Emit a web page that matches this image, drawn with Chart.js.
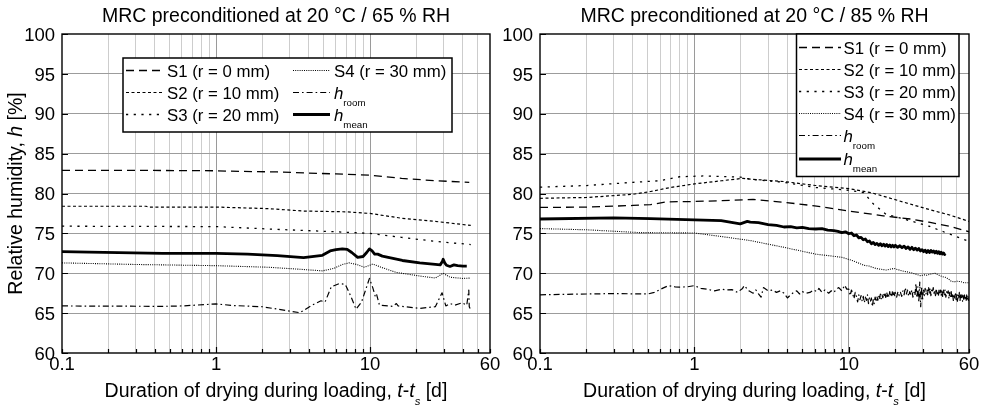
<!DOCTYPE html>
<html>
<head>
<meta charset="utf-8">
<title>Relative humidity during drying under loading</title>
<script src="https://cdn.jsdelivr.net/npm/chart.js@4.4.1/dist/chart.umd.min.js"></script>
<style>
  html, body { margin: 0; padding: 0; background: #ffffff; }
  #stage { position: relative; width: 988px; height: 413px; overflow: hidden; background: #ffffff; }
  #stage canvas { position: absolute; top: 0; }
  #panelA { left: 0; }
  #panelB { left: 494px; }
</style>
</head>
<body>
<div id="stage">
  <canvas id="panelA" width="510" height="413"></canvas>
  <canvas id="panelB" width="494" height="413"></canvas>
</div>
<script>
// ---------- axes ----------
const xTicks = [0.1, 0.2, 0.3, 0.4, 0.5, 0.6, 0.7, 0.8, 0.9, 1, 2, 3, 4, 5, 6, 7, 8, 9, 10, 20, 30, 40, 50, 60];
const xLabelled = [0.1, 1, 10, 60];
const xTickText = ['0.1', '1', '10', '60'];
const xMajor = [1, 10];
const yTicks = [60, 65, 70, 75, 80, 85, 90, 95, 100];

// ---------- series names ----------
const seriesKeys = ['S1', 'S2', 'S3', 'S4', 'room', 'mean'];
const sensorNames = ['S1 (r = 0 mm)', 'S2 (r = 10 mm)', 'S3 (r = 20 mm)', 'S4 (r = 30 mm)'];
const hSubscripts = ['room', 'mean'];

// ---------- panel A: preconditioned at 20 °C / 65 % RH ----------
const a_S1_t = [0.1, 0.3, 1, 1.2, 2.5, 6, 10, 16, 26.5, 44];
const a_S1_h = [82.9, 82.9, 82.85, 82.8, 82.7, 82.45, 82.3, 81.9, 81.6, 81.4];

const a_S2_t = [0.1, 0.35, 0.37, 1, 2.2, 3.7, 7, 10, 16, 26.5, 45];
const a_S2_h = [78.4, 78.4, 78.3, 78.3, 78.1, 77.8, 77.7, 77.5, 76.9, 76.5, 76.0];

const a_S3_t = [0.1, 1, 2.5, 6, 10, 16, 26.5, 45];
const a_S3_h = [75.9, 75.85, 75.5, 75.2, 75.0, 74.5, 74.0, 73.6];

const a_S4_t = [0.1, 0.3, 1, 2.2, 3.5, 4.9, 5.8, 6.6, 7.3, 8.2,
                9.2, 10.4, 12, 14.8, 21, 26.5, 29.8, 33, 40, 45];
const a_S4_h = [71.3, 71.1, 70.95, 70.75, 70.5, 70.3, 70.6, 71.1, 71.3, 71.1,
                70.75, 71.15, 70.7, 70.1, 69.65, 69.4, 70.0, 69.5, 69.35, 69.4];

const a_room_t = [0.1, 0.45, 0.6, 1, 1.3, 2, 2.5, 3.5, 4.2, 4.8,
                  5.1, 5.6, 6.3, 6.9, 7.5, 8.1, 8.8, 9.9, 10.4, 10.8,
                  11.0, 11.5, 14, 14.8, 15.2, 21, 26.5, 29.3, 31, 33,
                  35.5, 39.6, 42.4, 43.7, 44, 45];
const a_room_h = [65.9, 65.85, 65.9, 66.15, 65.95, 65.8, 65.5, 65.05, 66.0, 66.55,
                  66.4, 68.3, 68.7, 68.6, 67.1, 65.5, 66.4, 69.35, 68.2, 67.1,
                  67.4, 66.0, 65.85, 66.2, 65.9, 65.6, 65.8, 67.55, 65.9, 66.2,
                  66.0, 66.3, 66.0, 67.9, 65.8, 65.4];

const a_mean_t = [0.1, 0.15, 0.45, 1, 1.6, 2.5, 3.7, 4.9, 5.5, 6.0,
                  6.6, 7.1, 7.6, 8.3, 9.0, 9.5, 9.9, 10.3, 10.7, 11.2,
                  12, 16.2, 21, 26.5, 28.5, 29.5, 29.8, 30.5, 31.3, 33,
                  35, 37, 40, 42.4];
const a_mean_h = [72.7, 72.65, 72.5, 72.5, 72.4, 72.2, 71.95, 72.25, 72.8, 72.95,
                  73.05, 73.0, 72.6, 72.0, 72.1, 72.6, 73.05, 72.8, 72.4, 72.4,
                  72.15, 71.6, 71.3, 71.1, 71.05, 71.5, 71.75, 71.3, 71.0, 70.85,
                  71.05, 70.95, 70.9, 70.9];

// ---------- panel B: preconditioned at 20 °C / 85 % RH ----------
const b_S1_t = [0.1, 0.2, 0.4, 0.52, 0.66, 1, 1.5, 2.4, 3.8, 6, 10, 16.7, 25, 33, 45, 60];
const b_S1_h = [78.25, 78.3, 78.5, 78.6, 78.95, 79.0, 79.1, 79.25, 78.9, 78.45, 77.8, 77.2, 76.8, 76.4, 75.9, 75.2];

const b_S2_t = [0.1, 0.2, 0.4, 0.52, 0.7, 1, 1.5, 2.06, 2.3, 3.8, 6.1, 10.1, 14, 21, 33, 45, 60];
const b_S2_h = [79.4, 79.5, 79.9, 80.25, 80.75, 81.2, 81.6, 81.9, 81.8, 81.5, 81.0, 80.6, 80.1, 79.1, 78.0, 77.3, 76.5];

const b_S3_t = [0.1, 0.2, 0.4, 0.6, 0.8, 1.14, 1.98, 2.3, 3.8, 6.1, 10.1, 12.5, 14.4, 17.4, 24.7, 33, 45, 60];
const b_S3_h = [80.8, 81.0, 81.4, 81.6, 82.1, 82.2, 82.05, 81.8, 81.4, 80.75, 80.4, 80.1, 78.7, 77.4, 76.6, 75.9, 74.9, 74.0];

const b_S4_t = [0.1, 0.2, 0.44, 1, 1.5, 2.3, 3.8, 6.1, 9, 10.5,
                11.5, 12.5, 13.5, 15, 17.4, 19.6, 22, 25, 27, 29,
                31, 32, 34, 36, 38, 40, 42, 44, 46, 48,
                50, 53, 56, 60];
const b_S4_h = [75.6, 75.45, 75.1, 75.05, 74.6, 74.1, 73.25, 72.4, 72.0, 71.6,
                71.3, 71.0, 70.9, 70.6, 70.4, 70.6, 70.3, 70.1, 69.9, 69.7,
                69.8, 69.75, 69.9, 70.0, 69.8, 69.6, 69.5, 69.3, 69.0, 68.9,
                69.0, 68.95, 68.8, 68.8];

const b_room_t = [0.1, 0.2, 0.3, 0.5, 0.55, 0.62, 0.68, 0.75, 0.8, 0.9,
                  1.0, 1.1, 1.2, 1.35, 1.5, 1.6, 1.75, 1.9, 2.05, 2.1,
                  2.25, 2.4, 2.5, 2.6, 2.7, 2.8, 3.0, 3.2, 3.4, 3.6,
                  3.8, 4.0, 4.2, 4.4, 4.6, 4.8, 5.0, 5.3, 5.6, 5.9,
                  6.2, 6.4, 6.7, 7.0, 7.4, 7.7, 8.0, 8.3, 8.6, 9.0,
                  9.4, 9.7,
                  10.0, 10.2, 10.4, 10.6, 10.8, 11.0, 11.2, 11.4, 11.6, 11.8,
                  12.0, 12.2, 12.4, 12.6, 12.8, 13.0, 13.2, 13.4, 13.6, 13.8,
                  14.0, 14.2, 14.4, 14.6, 14.8, 15.0, 15.2, 15.4, 15.6, 15.8,
                  16.0, 16.2, 16.4, 16.6, 16.8, 17.0, 17.2, 17.4, 17.6, 17.8,
                  18.0, 18.2, 18.4, 18.6, 18.8, 19.0, 19.2, 19.4, 19.6, 19.8,
                  20.0, 20.4, 20.8, 21.2, 21.6, 22.0, 22.4, 22.8, 23.2, 23.6,
                  24.0, 24.4, 24.8, 25.2, 25.6, 26.0, 26.4, 26.8, 27.2, 27.6,
                  28.0, 28.4, 28.8, 29.2, 29.6, 30.0, 30.4, 30.8, 31.2, 31.6,
                  32.0, 32.4, 32.8, 33.2, 33.6, 34.0, 34.4, 34.8, 35.2, 35.6,
                  36.0, 36.4, 36.8, 37.2, 37.6, 38.0, 38.4, 38.8, 39.2, 39.6,
                  40.0, 40.5, 41.0, 41.5, 42.0, 42.5, 43.0, 43.5, 44.0, 44.5,
                  45.0, 45.5, 46.0, 46.5, 47.0, 47.5, 48.0, 48.5, 49.0, 49.5,
                  50.0, 50.5, 51.0, 51.5, 52.0, 52.5, 53.0, 53.5, 54.0, 54.5,
                  55.0, 55.5, 56.0, 56.5, 57.0, 57.5, 58.0, 58.5, 59.0, 59.5,
                  60.0];
const b_room_h = [67.3, 67.4, 67.45, 67.4, 67.6, 68.1, 68.45, 68.3, 68.25, 68.3,
                  68.45, 68.1, 68.0, 67.8, 68.0, 67.9, 67.95, 67.6, 68.1, 68.45,
                  67.8, 67.5, 67.9, 67.4, 67.0, 68.2, 67.8, 67.9, 67.6, 67.8,
                  67.5, 66.9, 67.3, 67.6, 67.8, 67.4, 67.7, 67.5, 67.6, 67.9,
                  67.7, 68.1, 67.6, 67.9, 67.5, 67.8, 67.6, 68.0, 68.2, 67.8,
                  68.5, 68.0,
                  68.0, 67.2, 67.9, 67.4, 66.8, 67.6, 67.1, 66.4, 67.3, 66.7,
                  67.2, 66.5, 67.1, 66.3, 67.0, 66.6, 67.3, 66.2, 66.9, 66.5,
                  66.9, 65.8, 66.7, 66.2, 67.0, 66.4, 67.1, 66.6, 67.2, 66.7,
                  67.4, 66.8, 67.3, 66.9, 67.5, 67.0, 67.4, 66.8, 67.6, 67.1,
                  67.5, 67.0, 67.7, 67.1, 67.6, 67.2, 67.8, 67.1, 67.6, 67.2,
                  67.6, 67.0, 67.7, 67.2, 67.6, 67.1, 67.8, 67.3, 68.2, 67.4,
                  67.9, 67.1, 67.7, 67.3, 67.9, 67.0, 67.6, 67.2, 68.7, 66.9,
                  68.3, 66.4, 68.9, 65.8, 68.3, 66.6, 67.9, 67.2, 68.1, 67.4,
                  67.9, 67.3, 68.3, 67.5, 68.1, 67.2, 67.9, 67.6, 68.2, 67.5,
                  67.9, 67.2, 68.1, 67.4, 67.8, 67.1, 68.0, 67.3, 67.9, 67.2,
                  67.8, 67.1, 68.0, 67.3, 67.9, 67.0, 67.7, 67.3, 67.8, 66.8,
                  67.6, 67.0, 67.7, 66.9, 67.5, 66.6, 67.4, 66.9, 67.6, 66.7,
                  67.5, 66.5, 67.3, 66.8, 67.6, 66.6, 67.4, 66.7, 67.3, 66.5,
                  67.2, 66.6, 67.4, 66.8, 67.2, 66.5, 67.3, 66.7, 67.1, 66.6,
                  67.0];

const b_mean_t = [0.1, 0.3, 0.52, 1, 1.49, 1.98, 2.2, 2.3, 2.6, 3.0,
                  3.4, 3.8, 4.2, 4.6, 5.0, 5.5, 6.1, 6.7, 7.3, 8.0,
                  8.5, 9.0, 9.5,
                  10.0, 10.4, 10.8, 11.2, 11.6, 12.0, 12.4, 12.8, 13.2, 13.6,
                  14.0, 14.4, 14.8, 15.2, 15.6, 16.0, 16.4, 16.8, 17.2, 17.6,
                  18.0, 18.4, 18.8, 19.2, 19.6,
                  20.0, 20.7, 21.4, 22.1, 22.8, 23.5, 24.2, 24.9, 25.6, 26.3,
                  27.0, 27.7, 28.4, 29.1, 29.8, 30.5, 31.2, 31.9, 32.6, 33.3,
                  34.0, 34.7, 35.4, 36.1, 36.8, 37.5, 38.2, 38.9, 39.6, 40.3,
                  41.0, 41.7, 42.2];
const b_mean_h = [76.8, 76.95, 76.85, 76.7, 76.6, 76.2, 76.5, 76.4, 76.35, 76.1,
                  76.0, 75.8, 75.85, 75.7, 75.75, 75.6, 75.55, 75.6, 75.4, 75.35,
                  75.25, 75.1, 75.2,
                  74.95, 75.05, 74.7, 74.8, 74.45, 74.5, 74.2, 74.3, 73.95, 74.05,
                  73.7, 73.85, 73.6, 73.75, 73.5, 73.7, 73.45, 73.65, 73.4, 73.6,
                  73.35, 73.55, 73.3, 73.5, 73.3,
                  73.5, 73.25, 73.45, 73.2, 73.4, 73.1, 73.3, 73.0, 73.25, 72.95,
                  73.15, 72.9, 73.1, 72.8, 72.95, 72.7, 72.9, 72.6, 72.85, 72.6,
                  72.85, 72.65, 72.8, 72.55, 72.75, 72.5, 72.7, 72.45, 72.65, 72.4,
                  72.55, 72.35, 72.45];

// ---------- styling ----------
const TEXT_FONT = '"Liberation Sans", Arial, Helvetica, sans-serif';
const SIZE_TITLE = 19.5;
const SIZE_TICK = 18.5;
const SIZE_AXIS = 19.5;
const SIZE_LEGEND = 16.8;
const SUB_SCALE = 0.58;

const lineStyles = {
  S1:   { borderDash: [8, 5],         borderWidth: 1.3 },
  S2:   { borderDash: [3, 2.5],       borderWidth: 1.2 },
  S3:   { borderDash: [2.2, 5.5],     borderWidth: 1.3 },
  S4:   { borderDash: [1, 1.2],       borderWidth: 1.1 },
  room: { borderDash: [6, 3, 1.6, 3], borderWidth: 1.2 },
  mean: { borderDash: [],             borderWidth: 2.8 }
};

// ---------- rich text helpers (italic symbols, subscripts) ----------
function fontFor(size, italic) { return (italic ? 'italic ' : '') + size + 'px ' + TEXT_FONT; }
function partSize(p, size) { return p.sub ? size * SUB_SCALE : size; }
function measureRich(ctx, parts, size) {
  let w = 0;
  parts.forEach(p => { ctx.font = fontFor(partSize(p, size), p.i); w += ctx.measureText(p.t).width; });
  return w;
}
function drawRich(ctx, parts, x, y, size, align) {
  const w = measureRich(ctx, parts, size);
  let cx = align === 'center' ? x - w / 2 : (align === 'right' ? x - w : x);
  ctx.textAlign = 'left';
  ctx.textBaseline = 'alphabetic';
  parts.forEach(p => {
    ctx.font = fontFor(partSize(p, size), p.i);
    ctx.fillText(p.t, cx, y + (p.sub ? size * 0.42 : 0));
    cx += ctx.measureText(p.t).width;
  });
}
function legendParts(k) {
  const si = seriesKeys.indexOf(k);
  if (si < 4) return [{ t: sensorNames[si] }];
  return [{ t: 'h', i: true }, { t: hSubscripts[si - 4], sub: true }];
}

// ---------- overlay: frame, inward ticks, labels, titles, legend ----------
function makeOverlay(cfg) {
  return {
    id: 'overlay' + cfg.name,
    afterDraw(chart) {
      const ctx = chart.ctx, a = chart.chartArea;
      const xs = chart.scales.x, ys = chart.scales.y;
      ctx.save();
      ctx.strokeStyle = '#000';
      ctx.fillStyle = '#000';
      ctx.setLineDash([]);

      // inward tick marks
      ctx.lineWidth = 1.2;
      ctx.beginPath();
      xTicks.forEach(v => {
        const px = Math.round(xs.getPixelForValue(v)) + 0.5;
        const len = xMajor.includes(v) ? 6 : 4;
        ctx.moveTo(px, a.bottom); ctx.lineTo(px, a.bottom - len);
      });
      yTicks.forEach(v => {
        const py = Math.round(ys.getPixelForValue(v)) + 0.5;
        ctx.moveTo(a.left, py); ctx.lineTo(a.left + 6, py);
      });
      ctx.stroke();

      // plot frame
      ctx.lineWidth = 1.4;
      ctx.strokeRect(a.left, a.top, a.right - a.left, a.bottom - a.top);

      // tick labels
      xLabelled.forEach((v, i) => drawRich(ctx, [{ t: xTickText[i] }], xs.getPixelForValue(v), 370, SIZE_TICK, 'center'));
      yTicks.forEach(v => drawRich(ctx, [{ t: String(v) }], a.left - 7, ys.getPixelForValue(v) + SIZE_TICK * 0.36, SIZE_TICK, 'right'));

      // chart title
      drawRich(ctx, [{ t: cfg.title }], (a.left + a.right) / 2, 22, SIZE_TITLE, 'center');

      // x-axis title
      drawRich(ctx, [
        { t: 'Duration of drying during loading, ' }, { t: 't', i: true }, { t: '-' },
        { t: 't', i: true }, { t: 's', i: true, sub: true }, { t: ' [d]' }
      ], (a.left + a.right) / 2, 397, SIZE_AXIS, 'center');

      // y-axis title
      if (cfg.yTitle) {
        ctx.save();
        ctx.translate(22, (a.top + a.bottom) / 2);
        ctx.rotate(-Math.PI / 2);
        drawRich(ctx, [{ t: 'Relative humidity, ' }, { t: 'h', i: true }, { t: ' [%]' }], 0, 0, SIZE_AXIS, 'center');
        ctx.restore();
      }

      // legend
      const L = cfg.legend;
      ctx.fillStyle = '#fff';
      ctx.fillRect(L.box[0], L.box[1], L.box[2] - L.box[0], L.box[3] - L.box[1]);
      ctx.lineWidth = 1.5;
      ctx.strokeStyle = '#000';
      ctx.strokeRect(L.box[0], L.box[1], L.box[2] - L.box[0], L.box[3] - L.box[1]);
      ctx.fillStyle = '#000';
      chart.data.datasets.forEach((ds, i) => {
        const [sx, sy] = L.slots[i];
        ctx.setLineDash(ds.borderDash || []);
        ctx.lineWidth = ds.borderWidth;
        ctx.beginPath();
        ctx.moveTo(sx, sy); ctx.lineTo(sx + L.sample, sy);
        ctx.stroke();
        ctx.setLineDash([]);
        drawRich(ctx, legendParts(seriesKeys[i]), sx + L.sample + L.gap, sy + SIZE_LEGEND * 0.36, SIZE_LEGEND, 'left');
      });
      ctx.restore();
    }
  };
}

// ---------- chart construction ----------
function series(t, h) { return t.map((x, i) => ({ x: x, y: h[i] })); }

function buildDatasets(src) {
  return seriesKeys.map(k => Object.assign({
    label: k,
    data: series(src[k][0], src[k][1]),
    borderColor: '#000',
    backgroundColor: '#000',
    fill: false,
    pointRadius: 0,
    tension: 0,
    borderCapStyle: 'butt',
    borderJoinStyle: 'round'
  }, lineStyles[k]));
}

function makePanel(canvasId, src, cfg) {
  return new Chart(document.getElementById(canvasId), {
    type: 'line',
    data: { datasets: buildDatasets(src) },
    options: {
      responsive: false,
      animation: false,
      devicePixelRatio: 1,
      events: [],
      layout: { padding: { left: 0, top: 34, right: cfg.padRight, bottom: 0 } },
      plugins: { legend: { display: false }, tooltip: { enabled: false }, title: { display: false } },
      scales: {
        x: {
          type: 'logarithmic', min: 0.1, max: 60,
          afterBuildTicks: s => { s.ticks = xTicks.map(v => ({ value: v })); },
          afterFit: s => { s.height = 60; s.paddingLeft = 0; s.paddingRight = 0; },
          ticks: { display: false },
          border: { display: false },
          grid: {
            drawTicks: false, lineWidth: 1,
            color: c => {
              const v = c.tick ? c.tick.value : 0;
              if (v === 0.1 || v === 60) return 'rgba(0,0,0,0)';
              return xMajor.includes(v) ? '#9a9a9a' : '#cdcdcd';
            }
          }
        },
        y: {
          type: 'linear', min: 60, max: 100,
          afterBuildTicks: s => { s.ticks = yTicks.map(v => ({ value: v })); },
          afterFit: s => { s.width = cfg.yWidth; s.paddingTop = 0; s.paddingBottom = 0; },
          ticks: { display: false },
          border: { display: false },
          grid: {
            drawTicks: false, lineWidth: 1,
            color: c => {
              const v = c.tick ? c.tick.value : 0;
              return (v === 60 || v === 100) ? 'rgba(0,0,0,0)' : '#9c9c9c';
            }
          }
        }
      }
    },
    plugins: [makeOverlay(cfg)]
  });
}

makePanel('panelA', {
  S1: [a_S1_t, a_S1_h], S2: [a_S2_t, a_S2_h], S3: [a_S3_t, a_S3_h],
  S4: [a_S4_t, a_S4_h], room: [a_room_t, a_room_h], mean: [a_mean_t, a_mean_h]
}, {
  name: 'A', title: 'MRC preconditioned at 20 °C / 65 % RH', yTitle: true,
  padRight: 20, yWidth: 62,
  legend: {
    box: [123, 58, 452, 132], sample: 37, gap: 4,
    slots: [[126, 70.5], [126, 92.5], [126, 114.5], [293, 70.5], [293, 92.5], [293, 114.5]]
  }
});

makePanel('panelB', {
  S1: [b_S1_t, b_S1_h], S2: [b_S2_t, b_S2_h], S3: [b_S3_t, b_S3_h],
  S4: [b_S4_t, b_S4_h], room: [b_room_t, b_room_h], mean: [b_mean_t, b_mean_h]
}, {
  name: 'B', title: 'MRC preconditioned at 20 °C / 85 % RH', yTitle: false,
  padRight: 19, yWidth: 46,
  legend: {
    box: [302.5, 34, 465, 176.5], sample: 42, gap: 2.5,
    slots: [[305, 47.5], [305, 69.5], [305, 91.5], [305, 113.5], [305, 135.5], [305, 159]]
  }
});
</script>
</body>
</html>
